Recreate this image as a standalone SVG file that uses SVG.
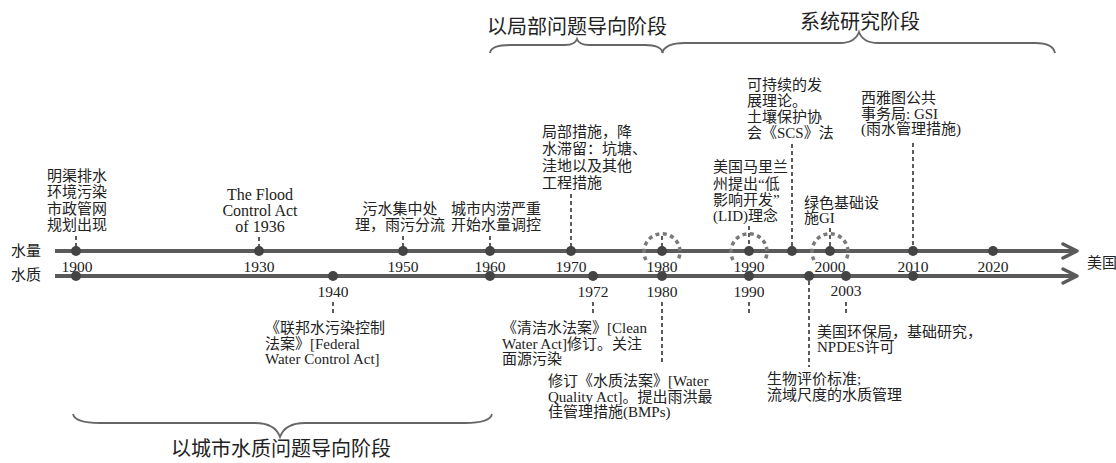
<svg xmlns="http://www.w3.org/2000/svg" width="1116" height="463" viewBox="0 0 1116 463">
<style>
  text { font-family: "Liberation Serif", "Noto Sans CJK SC", serif; fill: #222; font-size: 15px; }
  .lat { font-size: 16px; }
  .yr { font-size: 15.5px; text-anchor: middle; }
  .stage { font-size: 20px; text-anchor: middle; font-family: "Noto Sans CJK SC", sans-serif; }
  .axis { stroke: #5a5a5a; stroke-width: 4; fill: none; }
  .head { stroke: #5a5a5a; stroke-width: 3.5; fill: none; stroke-linecap: round; stroke-linejoin: round; }
  .lead { stroke: #333; stroke-width: 1.6; stroke-dasharray: 4 3; fill: none; }
  .dot { fill: #444; }
  .ring { stroke: #7a7a7a; stroke-width: 3.5; stroke-dasharray: 4 3.5; fill: none; }
  .brace { stroke: #666; stroke-width: 1.8; fill: none; }
</style>

<g id="stages">
  <path class="brace" d="M490,53 Q491,45 510,45 L565,45 Q575,45 577,39 Q579,45 589,45 L645,45 Q661,45 663,53"/>
  <text class="stage" x="577" y="34">以局部问题导向阶段</text>
  <path class="brace" d="M662,53 Q665,43 685,43 L840,43 Q855,43 859,32 Q863,43 878,43 L1035,43 Q1053,43 1055,53"/>
  <text class="stage" x="860" y="29">系统研究阶段</text>
  <path class="brace" d="M73,414 Q75,423 100,423 L255,423 Q275,423 280,437 Q285,423 305,423 L465,423 Q490,423 492,414"/>
  <text class="stage" x="281" y="456">以城市水质问题导向阶段</text>
</g>

<g id="connectors">
  <line class="axis" x1="55" y1="251" x2="1076" y2="251"/>
  <polyline class="head" points="1063,244 1077,251 1063,258"/>
  <line class="axis" x1="55" y1="276" x2="1076" y2="276"/>
  <polyline class="head" points="1063,269 1077,276 1063,283"/>
  <!-- upper leaders -->
  <line class="lead" x1="76" y1="236" x2="76" y2="251"/>
  <line class="lead" x1="259" y1="237" x2="259" y2="251"/>
  <line class="lead" x1="403" y1="236" x2="403" y2="251"/>
  <line class="lead" x1="490" y1="236" x2="490" y2="251"/>
  <line class="lead" x1="571" y1="194" x2="571" y2="251"/>
  <line class="lead" x1="749" y1="226" x2="749" y2="251"/>
  <line class="lead" x1="792" y1="144" x2="792" y2="251"/>
  <line class="lead" x1="830" y1="228" x2="830" y2="251"/>
  <line class="lead" x1="913" y1="143" x2="913" y2="251"/>
  <line class="lead" x1="662" y1="236" x2="662" y2="251"/>
  <!-- lower leaders -->
  <line class="lead" x1="333" y1="302" x2="333" y2="313"/>
  <line class="lead" x1="593" y1="302" x2="593" y2="313"/>
  <line class="lead" x1="662" y1="302" x2="662" y2="365"/>
  <line class="lead" x1="749" y1="302" x2="749" y2="315"/>
  <line class="lead" x1="809" y1="281" x2="809" y2="367"/>
  <line class="lead" x1="846" y1="302" x2="846" y2="314"/>
</g>

<g id="upper-axis">
  <text x="11" y="256">水量</text>
  <text x="1087" y="268">美国</text>
  <circle class="dot" cx="76" cy="251" r="5"/>
  <circle class="dot" cx="259" cy="251" r="5"/>
  <circle class="dot" cx="403" cy="251" r="5"/>
  <circle class="dot" cx="490" cy="251" r="5"/>
  <circle class="dot" cx="571" cy="251" r="5"/>
  <circle class="dot" cx="662" cy="251" r="5"/>
  <circle class="dot" cx="749" cy="251" r="5"/>
  <circle class="dot" cx="792" cy="251" r="5"/>
  <circle class="dot" cx="830" cy="251" r="5"/>
  <circle class="dot" cx="913" cy="251" r="5"/>
  <circle class="dot" cx="993" cy="251" r="5"/>
  <path class="ring" d="M646,260 A18,18 0 1 1 678,260"/>
  <path class="ring" d="M733,260 A18,18 0 1 1 765,260"/>
  <path class="ring" d="M814,260 A18,18 0 1 1 846,260"/>
  <text class="yr" x="77" y="272">1900</text>
  <text class="yr" x="259" y="272">1930</text>
  <text class="yr" x="403" y="272">1950</text>
  <text class="yr" x="490" y="272">1960</text>
  <text class="yr" x="571" y="272">1970</text>
  <text class="yr" x="662" y="272">1980</text>
  <text class="yr" x="749" y="272">1990</text>
  <text class="yr" x="830" y="272">2000</text>
  <text class="yr" x="913" y="272">2010</text>
  <text class="yr" x="993" y="272">2020</text>
</g>

<g id="lower-axis">
  <text x="11" y="280">水质</text>
  <circle class="dot" cx="76" cy="276" r="5"/>
  <circle class="dot" cx="333" cy="276" r="5"/>
  <circle class="dot" cx="490" cy="276" r="5"/>
  <circle class="dot" cx="593" cy="276" r="5"/>
  <circle class="dot" cx="662" cy="276" r="5"/>
  <circle class="dot" cx="749" cy="276" r="5"/>
  <circle class="dot" cx="809" cy="276" r="5"/>
  <circle class="dot" cx="846" cy="276" r="5"/>
  <circle class="dot" cx="913" cy="276" r="5"/>
  <text class="yr" x="333" y="297">1940</text>
  <text class="yr" x="593" y="297">1972</text>
  <text class="yr" x="662" y="297">1980</text>
  <text class="yr" x="749" y="297">1990</text>
  <text class="yr" x="846" y="296">2003</text>
</g>

<g id="n1900">
  <text x="47" y="181">明渠排水</text>
  <text x="47" y="197">环境污染</text>
  <text x="47" y="214">市政管网</text>
  <text x="47" y="230">规划出现</text>
</g>
<g id="n1930">
  <text class="lat" x="260" y="200" text-anchor="middle">The Flood</text>
  <text class="lat" x="260" y="216" text-anchor="middle">Control Act</text>
  <text class="lat" x="260" y="232" text-anchor="middle">of 1936</text>
</g>
<g id="n1950">
  <text x="400" y="214" text-anchor="middle">污水集中处</text>
  <text x="400" y="230" text-anchor="middle">理，雨污分流</text>
</g>
<g id="n1960">
  <text x="451" y="214">城市内涝严重</text>
  <text x="451" y="230">开始水量调控</text>
</g>
<g id="n1970">
  <text x="542" y="137">局部措施，降</text>
  <text x="542" y="154">水滞留：坑塘、</text>
  <text x="542" y="171">洼地以及其他</text>
  <text x="542" y="188">工程措施</text>
</g>
<g id="n1990">
  <text x="713" y="172">美国马里兰</text>
  <text x="713" y="189">州提出“低</text>
  <text x="713" y="205">影响开发”</text>
  <text x="713" y="221">(LID)理念</text>
</g>
<g id="nSCS">
  <text x="747" y="90">可持续的发</text>
  <text x="747" y="106">展理论。</text>
  <text x="747" y="122">土壤保护协</text>
  <text x="747" y="138">会《SCS》法</text>
</g>
<g id="n2000">
  <text x="804" y="208">绿色基础设</text>
  <text x="804" y="223">施GI</text>
</g>
<g id="n2010">
  <text x="861" y="103">西雅图公共</text>
  <text x="861" y="119">事务局: GSI</text>
  <text x="861" y="134">(雨水管理措施)</text>
</g>
<g id="n1940">
  <text x="265" y="333">《联邦水污染控制</text>
  <text x="265" y="349">法案》[Federal</text>
  <text x="265" y="364">Water Control Act]</text>
</g>
<g id="n1972">
  <text x="502" y="333">《清洁水法案》[Clean</text>
  <text x="502" y="349">Water Act]修订。关注</text>
  <text x="502" y="364">面源污染</text>
</g>
<g id="n1980">
  <text x="548" y="386">修订《水质法案》[Water</text>
  <text x="548" y="402">Quality Act]。提出雨洪最</text>
  <text x="548" y="417">佳管理措施(BMPs)</text>
</g>
<g id="n1996">
  <text x="767" y="384">生物评价标准;</text>
  <text x="767" y="400">流域尺度的水质管理</text>
</g>
<g id="n2003">
  <text x="817" y="337">美国环保局，基础研究，</text>
  <text x="817" y="352">NPDES许可</text>
</g>
</svg>
